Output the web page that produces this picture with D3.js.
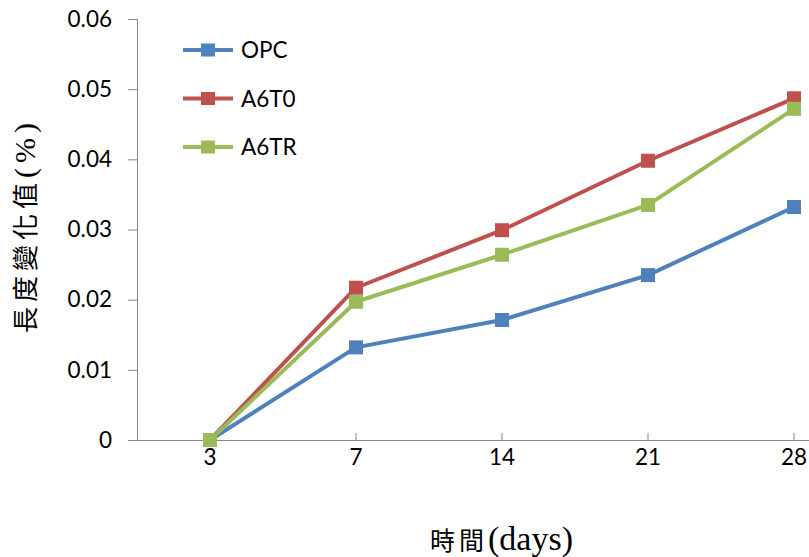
<!DOCTYPE html>
<html>
<head>
<meta charset="utf-8">
<script src="https://cdn.jsdelivr.net/npm/d3@7"></script>
<style>
  html, body { margin: 0; padding: 0; background: #fff; }
  svg { display: block; }
</style>
</head>
<body>
<svg id="chart" width="809" height="557"></svg>
<script>
// Curing age (days) and length change (%) for each mix
const categories = ["3", "7", "14", "21", "28"];
const opc  = [0, 0.0132, 0.0171, 0.0235, 0.0332];
const a6t0 = [0, 0.0217, 0.0299, 0.0398, 0.0487];
const a6tr = [0, 0.0197, 0.0264, 0.0335, 0.0472];
const seriesNames = ["OPC", "A6T0", "A6TR"];
const seriesColors = ["#4F81BD", "#C0504D", "#9BBB59"];
const yTicks = [0, 0.01, 0.02, 0.03, 0.04, 0.05, 0.06];
const yTickLabels = ["0", "0.01", "0.02", "0.03", "0.04", "0.05", "0.06"];

const series = [opc, a6t0, a6tr].map((vals, i) => ({
  name: seriesNames[i],
  color: seriesColors[i],
  values: vals.map((v, j) => ({ cat: categories[j], v }))
}));

const svg = d3.select("#chart");
const plotLeft = 137, plotRight = 867, plotTop = 19, plotBottom = 440;

const x = d3.scaleBand().domain(categories).range([plotLeft, plotRight]);
const xc = c => x(c) + x.bandwidth() / 2;
const y = d3.scaleLinear().domain([0, 0.06]).range([plotBottom, plotTop]);

const axisColor = "#868686";
const tickFont = "Lato, 'Open Sans', sans-serif";
const tickSize = "22.5px";

// Y axis
const yAxis = d3.axisLeft(y)
  .tickValues(yTicks)
  .tickFormat((d, i) => yTickLabels[i])
  .tickSize(9)
  .tickPadding(16);
const gy = svg.append("g").attr("transform", `translate(${plotLeft},0)`).call(yAxis);
gy.select(".domain").attr("stroke", axisColor).attr("d", `M0.5,${plotTop}V${plotBottom}`);
gy.selectAll(".tick line").attr("stroke", axisColor);
gy.selectAll(".tick text")
  .attr("fill", "#000")
  .style("font-family", tickFont)
  .style("font-size", tickSize);

// X axis (ticks point up into the plot)
const xAxis = d3.axisBottom(x).tickSize(0).tickPadding(0);
const gx = svg.append("g").attr("transform", `translate(0,${plotBottom})`).call(xAxis);
gx.select(".domain").attr("stroke", axisColor).attr("d", `M${plotLeft},0.5H${plotRight}`);
gx.selectAll(".tick line")
  .attr("stroke", axisColor)
  .attr("y1", 0).attr("y2", -7);
gx.selectAll(".tick text")
  .attr("fill", "#000")
  .attr("y", 25)
  .attr("dy", "0")
  .style("font-family", tickFont)
  .style("font-size", tickSize);

// Lines and markers
const line = d3.line().x(d => xc(d.cat)).y(d => y(d.v));
const ms = 14;
series.forEach(s => {
  svg.append("path")
    .datum(s.values)
    .attr("d", line)
    .attr("fill", "none")
    .attr("stroke", s.color)
    .attr("stroke-width", 4)
    .attr("stroke-linejoin", "round");
  svg.append("g").selectAll("rect")
    .data(s.values)
    .join("rect")
    .attr("x", d => xc(d.cat) - ms / 2)
    .attr("y", d => y(d.v) - ms / 2)
    .attr("width", ms)
    .attr("height", ms)
    .attr("fill", s.color);
});

// Legend
const legend = svg.append("g").attr("transform", "translate(183,50)");
series.forEach((s, i) => {
  const g = legend.append("g").attr("transform", `translate(0,${i * 48.5})`);
  g.append("line")
    .attr("x1", 0).attr("x2", 50).attr("y1", 0).attr("y2", 0)
    .attr("stroke", s.color).attr("stroke-width", 4);
  g.append("rect")
    .attr("x", 25 - 7).attr("y", -6.5).attr("width", 14).attr("height", 13)
    .attr("fill", s.color);
  g.append("text")
    .attr("x", 58).attr("y", 8)
    .style("font-family", tickFont)
    .style("font-size", tickSize)
    .attr("fill", "#000")
    .text(s.name);
});

// Axis titles: CJK part and Latin part set in separate fonts and sizes
const cjkFont = "'Noto Sans CJK TC', sans-serif";
const latinFont = "'Liberation Serif', serif";

const yTitle = svg.append("text")
  .attr("transform", "translate(35,228) rotate(-90)")
  .attr("x", -105)
  .attr("textLength", 210)
  .attr("lengthAdjust", "spacing")
  .attr("fill", "#000");
yTitle.append("tspan").style("font-family", cjkFont).style("font-size", "26px").text("長度變化值");
yTitle.append("tspan").style("font-family", latinFont).style("font-size", "30px").text("(%)");

const xTitle = svg.append("text")
  .attr("x", 430).attr("y", 550)
  .attr("fill", "#000");
xTitle.append("tspan").style("font-family", cjkFont).style("font-size", "25px").style("letter-spacing", "4px").text("時間");
xTitle.append("tspan").style("font-family", latinFont).style("font-size", "34px").text("(days)");
</script>
</body>
</html>
